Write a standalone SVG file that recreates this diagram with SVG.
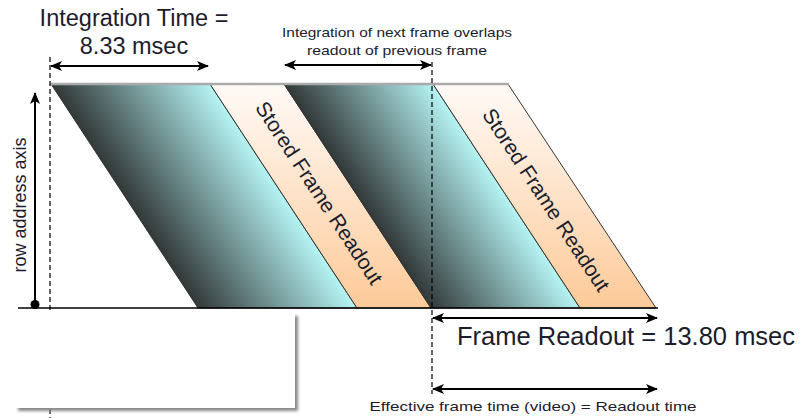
<svg xmlns="http://www.w3.org/2000/svg" width="807" height="418" viewBox="0 0 807 418">
<style>
.t{font-family:"Liberation Sans",Arial,sans-serif;fill:#1c1c2c}
.sm{font-family:"Liberation Sans",Arial,sans-serif;fill:#1c1c2c;font-size:13px}
.edge{stroke:#333;stroke-width:1}
.arr{stroke:#000;stroke-width:2;fill:none;marker-start:url(#ah);marker-end:url(#ah)}
.dash{stroke:#000;stroke-width:1.2;stroke-dasharray:5,3;fill:none}
</style>
<defs>
<marker id="ah" viewBox="0 0 12 10" refX="11" refY="5" markerWidth="12" markerHeight="10" markerUnits="userSpaceOnUse" orient="auto-start-reverse">
<path d="M0,0 L12,5 L0,10 L3,5 Z" fill="#000"/>
</marker>
<linearGradient id="g1" gradientUnits="userSpaceOnUse" x1="124.5" y1="196" x2="235.7" y2="123">
<stop offset="0" stop-color="#323838"/><stop offset="1" stop-color="#b6f4f4"/>
</linearGradient>
<linearGradient id="g2" gradientUnits="userSpaceOnUse" x1="357.5" y1="196" x2="461.7" y2="127.6">
<stop offset="0" stop-color="#323838"/><stop offset="1" stop-color="#b6f4f4"/>
</linearGradient>
<linearGradient id="ro" x1="0" y1="0" x2="0" y2="1">
<stop offset="0" stop-color="#fffaf7"/><stop offset="1" stop-color="#fdca98"/>
</linearGradient>
<filter id="sh" x="-10%" y="-10%" width="130%" height="140%">
<feGaussianBlur stdDeviation="1.8"/>
</filter>
</defs>

<g id="integration1">
<polygon class="edge" points="51,84 210,84 357,308 198,308" fill="url(#g1)"/>
</g>
<g id="readout1">
<polygon class="edge" points="210,84 284,84 431,308 357,308" fill="url(#ro)"/>
<text class="t" font-size="21" text-anchor="middle" transform="translate(319,193) rotate(56.7)" y="7">Stored Frame Readout</text>
</g>
<g id="integration2">
<polygon class="edge" points="284,84 433,84 580,308 431,308" fill="url(#g2)"/>
</g>
<g id="readout2">
<polygon class="edge" points="433,84 508,84 656,308 580,308" fill="url(#ro)"/>
<text class="t" font-size="21" text-anchor="middle" transform="translate(546,200) rotate(56.7)" y="7">Stored Frame Readout</text>
</g>

<g id="connectors">
<line x1="50" y1="84" x2="509" y2="84" stroke="#aaa" stroke-width="2.5"/>
<line class="dash" x1="50" y1="57" x2="50" y2="418"/>
<line class="dash" x1="432" y1="62" x2="432" y2="394"/>
<line x1="18" y1="308" x2="658" y2="308" stroke="#000" stroke-width="1.5"/>
<line class="arr" x1="51" y1="66" x2="208" y2="66"/>
<line class="arr" x1="285" y1="65" x2="431" y2="65"/>
<line class="arr" x1="433" y1="318" x2="657" y2="318"/>
<line class="arr" x1="433" y1="389" x2="657" y2="389"/>
<line x1="35" y1="305" x2="35" y2="93" stroke="#000" stroke-width="2" marker-end="url(#ah)"/>
<circle cx="35" cy="304.5" r="4.5" fill="#000"/>
</g>

<g id="blankbox">
<rect x="18" y="316" width="280" height="95" fill="#888" filter="url(#sh)"/>
<rect x="15" y="313" width="280" height="95" fill="#fff"/>
</g>

<g id="labels">
<text class="t" font-size="23.5" x="134" y="26" text-anchor="middle">Integration Time =</text>
<text class="t" font-size="23.5" x="134" y="54" text-anchor="middle">8.33 msec</text>
<text class="sm" x="397" y="37" text-anchor="middle" textLength="230" lengthAdjust="spacingAndGlyphs">Integration of next frame overlaps</text>
<text class="sm" x="397" y="55" text-anchor="middle" textLength="180" lengthAdjust="spacingAndGlyphs">readout of previous frame</text>
<text class="t" font-size="18" text-anchor="middle" transform="translate(26,205) rotate(-90)">row address axis</text>
<text class="t" font-size="25.5" x="457" y="345">Frame Readout = 13.80 msec</text>
<text class="sm" x="533" y="411" text-anchor="middle" textLength="327" lengthAdjust="spacingAndGlyphs">Effective frame time (video) = Readout time</text>
</g>
</svg>
